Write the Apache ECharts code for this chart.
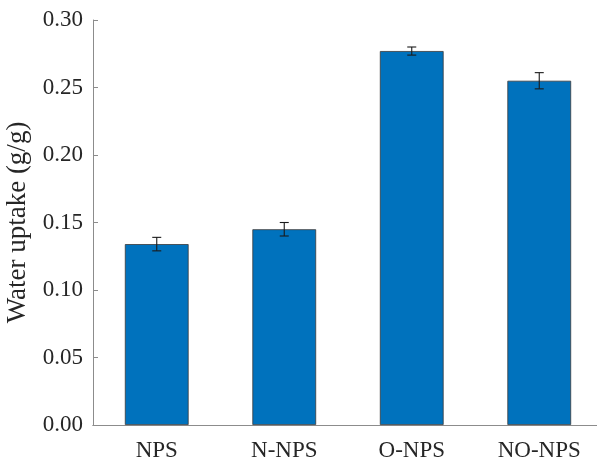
<!DOCTYPE html>
<html>
<head>
<meta charset="utf-8">
<script src="https://cdn.jsdelivr.net/npm/echarts@6/dist/echarts.min.js"></script>
<style>
  html, body { margin: 0; padding: 0; background: #fff; }
  #main { width: 597px; height: 459px; }
</style>
</head>
<body>
<div id="main"></div>
<script>
var categories = ['NPS', 'N-NPS', 'O-NPS', 'NO-NPS'];
var uptake = [0.134, 0.145, 0.277, 0.255];
var uptakeErr = [0.005, 0.005, 0.003, 0.006];

var font = '"Liberation Serif", "Times New Roman", serif';
var axisGray = '#8c8c8c';

var myChart = echarts.init(document.getElementById('main'));

var errData = categories.map(function (c, i) {
    return [i, uptake[i] - uptakeErr[i], uptake[i] + uptakeErr[i]];
});

var option = {
    animation: false,
    grid: {
        left: 93,
        top: 20,
        width: 510,
        height: 405,
        containLabel: false,
        outerBoundsMode: 'none'
    },
    xAxis: [{
        type: 'category',
        data: categories,
        position: 'bottom',
        axisLine: { lineStyle: { color: axisGray, width: 1 } },
        axisTick: { inside: true, alignWithLabel: true, length: 5, lineStyle: { color: axisGray } },
        axisLabel: { color: '#262626', fontFamily: font, fontSize: 23, margin: 14 }
    }, {
        type: 'category',
        data: categories,
        position: 'top',
        axisLine: { lineStyle: { color: axisGray, width: 1 } },
        axisTick: { inside: true, alignWithLabel: true, length: 5, lineStyle: { color: axisGray } },
        axisLabel: { show: false }
    }],
    yAxis: [{
        type: 'value',
        min: 0,
        max: 0.3,
        interval: 0.05,
        name: 'Water uptake (g/g)',
        nameLocation: 'middle',
        nameGap: 60,
        nameTextStyle: { color: '#262626', fontFamily: font, fontSize: 27 },
        axisLine: { show: true, lineStyle: { color: axisGray, width: 1 } },
        axisTick: { show: true, inside: true, length: 5, lineStyle: { color: axisGray } },
        splitLine: { show: false },
        axisLabel: {
            color: '#262626', fontFamily: font, fontSize: 23, margin: 10,
            formatter: function (v) { return v.toFixed(2); }
        }
    }, {
        type: 'value',
        min: 0,
        max: 0.3,
        interval: 0.05,
        position: 'right',
        axisLine: { show: true, lineStyle: { color: axisGray, width: 1 } },
        axisTick: { show: true, inside: true, length: 5, lineStyle: { color: axisGray } },
        splitLine: { show: false },
        axisLabel: { show: false }
    }],
    series: [{
        type: 'bar',
        data: uptake,
        barWidth: '50%',
        itemStyle: { color: '#0072BD', borderColor: '#3a3a3a', borderWidth: 0.8 }
    }, {
        type: 'custom',
        data: errData,
        z: 10,
        renderItem: function (params, api) {
            var lo = api.coord([api.value(0), api.value(1)]);
            var hi = api.coord([api.value(0), api.value(2)]);
            var hw = 4.5;
            var st = { stroke: '#1a1a1a', lineWidth: 1.1 };
            return {
                type: 'group',
                children: [
                    { type: 'line', shape: { x1: lo[0], y1: lo[1], x2: hi[0], y2: hi[1] }, style: st },
                    { type: 'line', shape: { x1: lo[0] - hw, y1: lo[1], x2: lo[0] + hw, y2: lo[1] }, style: st },
                    { type: 'line', shape: { x1: hi[0] - hw, y1: hi[1], x2: hi[0] + hw, y2: hi[1] }, style: st }
                ]
            };
        }
    }]
};

myChart.setOption(option);
</script>
</body>
</html>
